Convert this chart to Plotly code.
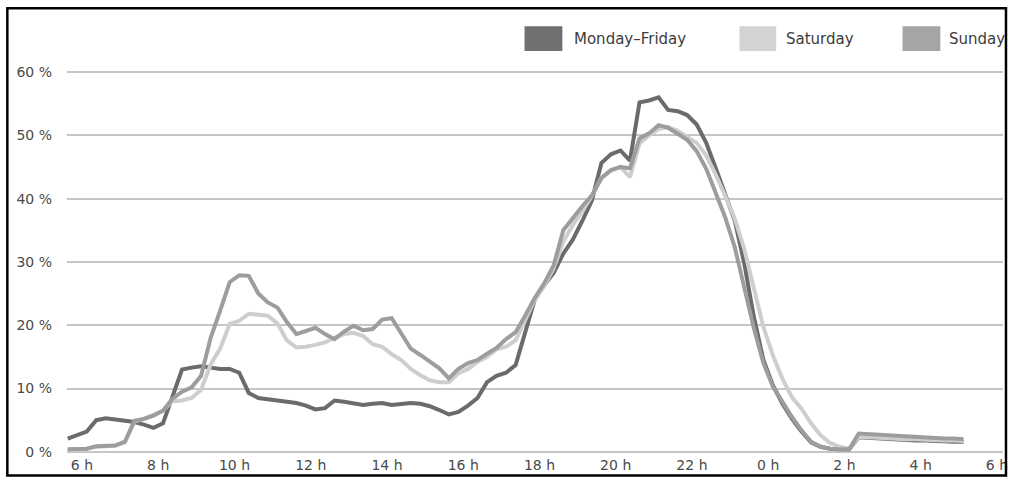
import plotly.graph_objects as go

# time grid: 15-minute steps (hours since midnight of day 1; >24 = next day)
START_H = 5.625
STEP_H = 0.25
N = 95
hours = [START_H + STEP_H * k for k in range(N)]

mon_fri = [
    2.1, 2.7, 3.2, 5.0, 5.3, 5.1, 4.9, 4.7, 4.3, 3.8,
    4.5, 8.7, 13.0, 13.3, 13.5, 13.3, 13.1, 13.1, 12.5, 9.3,
    8.5, 8.3, 8.1, 7.9, 7.7, 7.3, 6.7, 6.9, 8.1, 7.9,
    7.6, 7.4, 7.6, 7.7, 7.4, 7.6, 7.7, 7.6, 7.2, 6.6,
    5.9, 6.3, 7.3, 8.5, 11.0, 12.0, 12.5, 13.7, 19.0, 24.0,
    26.3, 28.3, 31.3, 33.5, 36.5, 39.7, 45.6, 47.0, 47.6, 46.0,
    55.2, 55.5, 56.0, 54.0, 53.8, 53.2, 51.7, 48.8, 44.8, 40.8,
    36.5, 29.7, 21.3, 14.5, 10.5, 7.6, 5.2, 3.2, 1.5, 0.8,
    0.5, 0.4, 0.4, 2.3, 2.2, 2.1, 2.0, 1.9, 1.9, 1.8,
    1.8, 1.7, 1.7, 1.6, 1.6,
]

saturday = [
    0.3, 0.3, 0.5, 0.8, 0.9, 1.0, 1.5, 4.8, 5.2, 5.8,
    6.5, 8.0, 8.1, 8.5, 9.8, 13.8, 16.3, 20.2, 20.7, 21.8,
    21.6, 21.5, 20.3, 17.6, 16.5, 16.6, 16.9, 17.3, 18.0, 18.6,
    18.8, 18.3, 17.0, 16.6, 15.4, 14.5, 13.1, 12.1, 11.3, 11.0,
    11.0, 12.4, 13.1, 14.2, 15.0, 16.2, 16.6, 17.6, 20.8, 24.0,
    26.2, 29.0, 33.2, 35.8, 38.0, 40.4, 43.3, 44.4, 45.0, 43.4,
    48.7, 50.0, 51.0, 51.3, 50.7, 49.8, 48.8, 46.8, 43.8, 40.4,
    36.8, 32.0, 25.8, 19.7, 15.2, 11.5, 8.6, 6.8, 4.5, 2.6,
    1.4, 0.8, 0.5, 2.4, 2.3, 2.2, 2.2, 2.1, 2.0, 2.0,
    1.9, 1.9, 1.8, 1.8, 1.7,
]

sunday = [
    0.4, 0.4, 0.5, 0.9, 1.0, 1.0, 1.6, 4.9, 5.2, 5.7,
    6.5, 8.4, 9.5, 10.2, 12.0, 18.0, 22.3, 26.8, 27.9, 27.8,
    25.0, 23.6, 22.8, 20.5, 18.6, 19.1, 19.6, 18.6, 17.8, 19.0,
    19.9, 19.2, 19.4, 20.9, 21.1, 18.7, 16.3, 15.3, 14.3, 13.2,
    11.6, 13.1, 14.0, 14.5, 15.5, 16.4, 17.8, 18.9, 21.5, 24.3,
    26.6, 29.5, 35.0, 37.0, 38.8, 40.5, 43.2, 44.5, 45.0, 44.8,
    49.5, 50.3, 51.6, 51.2, 50.3, 49.3, 47.5, 44.7, 40.9, 37.0,
    32.3, 26.0, 19.5, 14.0, 10.3, 7.9, 5.5, 3.4, 1.6, 0.8,
    0.5, 0.4, 0.4, 2.9, 2.8, 2.7, 2.6, 2.5, 2.4, 2.3,
    2.3, 2.2, 2.1, 2.1, 2.0,
]

series_names = ["Monday\u2013Friday", "Saturday", "Sunday"]
line_colors = ["#6b6b6b", "#cecece", "#9d9d9d"]
swatch_colors = ["#707070", "#d3d3d3", "#a5a5a5"]

x_tick_vals = [6, 8, 10, 12, 14, 16, 18, 20, 22, 24, 26, 28, 30]
x_tick_text = ["6 h", "8 h", "10 h", "12 h", "14 h", "16 h", "18 h",
               "20 h", "22 h", "0 h", "2 h", "4 h", "6 h"]
y_tick_vals = [0, 10, 20, 30, 40, 50, 60]
y_tick_text = ["0 %", "10 %", "20 %", "30 %", "40 %", "50 %", "60 %"]

fig = go.Figure()
for name, vals, col in zip(series_names, [mon_fri, saturday, sunday], line_colors):
    fig.add_trace(go.Scatter(
        x=hours, y=vals, mode="lines", name=name,
        line=dict(color=col, width=4), showlegend=False,
    ))

FONT = "DejaVu Sans"

fig.update_layout(
    width=1016, height=481,
    margin=dict(l=67, r=8, t=34, b=24.5),
    paper_bgcolor="white", plot_bgcolor="white",
    font=dict(family=FONT, size=14, color="#4a4a4a"),
    xaxis=dict(
        range=[5.607, 30.16], tickmode="array",
        tickvals=x_tick_vals, ticktext=x_tick_text,
        showgrid=False, zeroline=False, showline=False, ticks="",
        tickfont=dict(family=FONT, size=14, color="#4a4a4a"),
    ),
    yaxis=dict(
        range=[-0.5, 66], tickmode="array",
        tickvals=y_tick_vals, ticktext=y_tick_text,
        showgrid=True, gridcolor="#c6c6c6", gridwidth=1.6,
        zeroline=False, showline=False, ticks="",
        ticklabelstandoff=14,
        tickfont=dict(family=FONT, size=14, color="#4a4a4a"),
    ),
)

# custom legend (large swatches)
sw_x = [(527, 565), (743, 780), (907, 945)]
txt_x = [575, 788, 952]


def px_x(p):
    return (p - 67) / 941.0


def px_y(p):
    return (456.5 - p) / 422.6


for (a, b), tx, col, name in zip(sw_x, txt_x, swatch_colors, series_names):
    fig.add_shape(type="rect", xref="paper", yref="paper",
                  x0=px_x(a), x1=px_x(b), y0=px_y(51), y1=px_y(26),
                  fillcolor=col, line=dict(width=0))
    fig.add_annotation(xref="paper", yref="paper", x=px_x(tx), y=px_y(39),
                       text=name, showarrow=False, xanchor="left", yanchor="middle",
                       font=dict(family=FONT, size=15, color="#3c3c3c"))

# outer frame
fig.add_shape(type="rect", xref="paper", yref="paper",
              x0=px_x(7), x1=px_x(1011), y0=px_y(477), y1=px_y(8),
              line=dict(color="black", width=2.5), fillcolor="rgba(0,0,0,0)")

fig.write_html(
    "out.html",
    config={"displayModeBar": False},
    post_script="document.body.style.margin='0';document.body.style.overflow='hidden';",
)
